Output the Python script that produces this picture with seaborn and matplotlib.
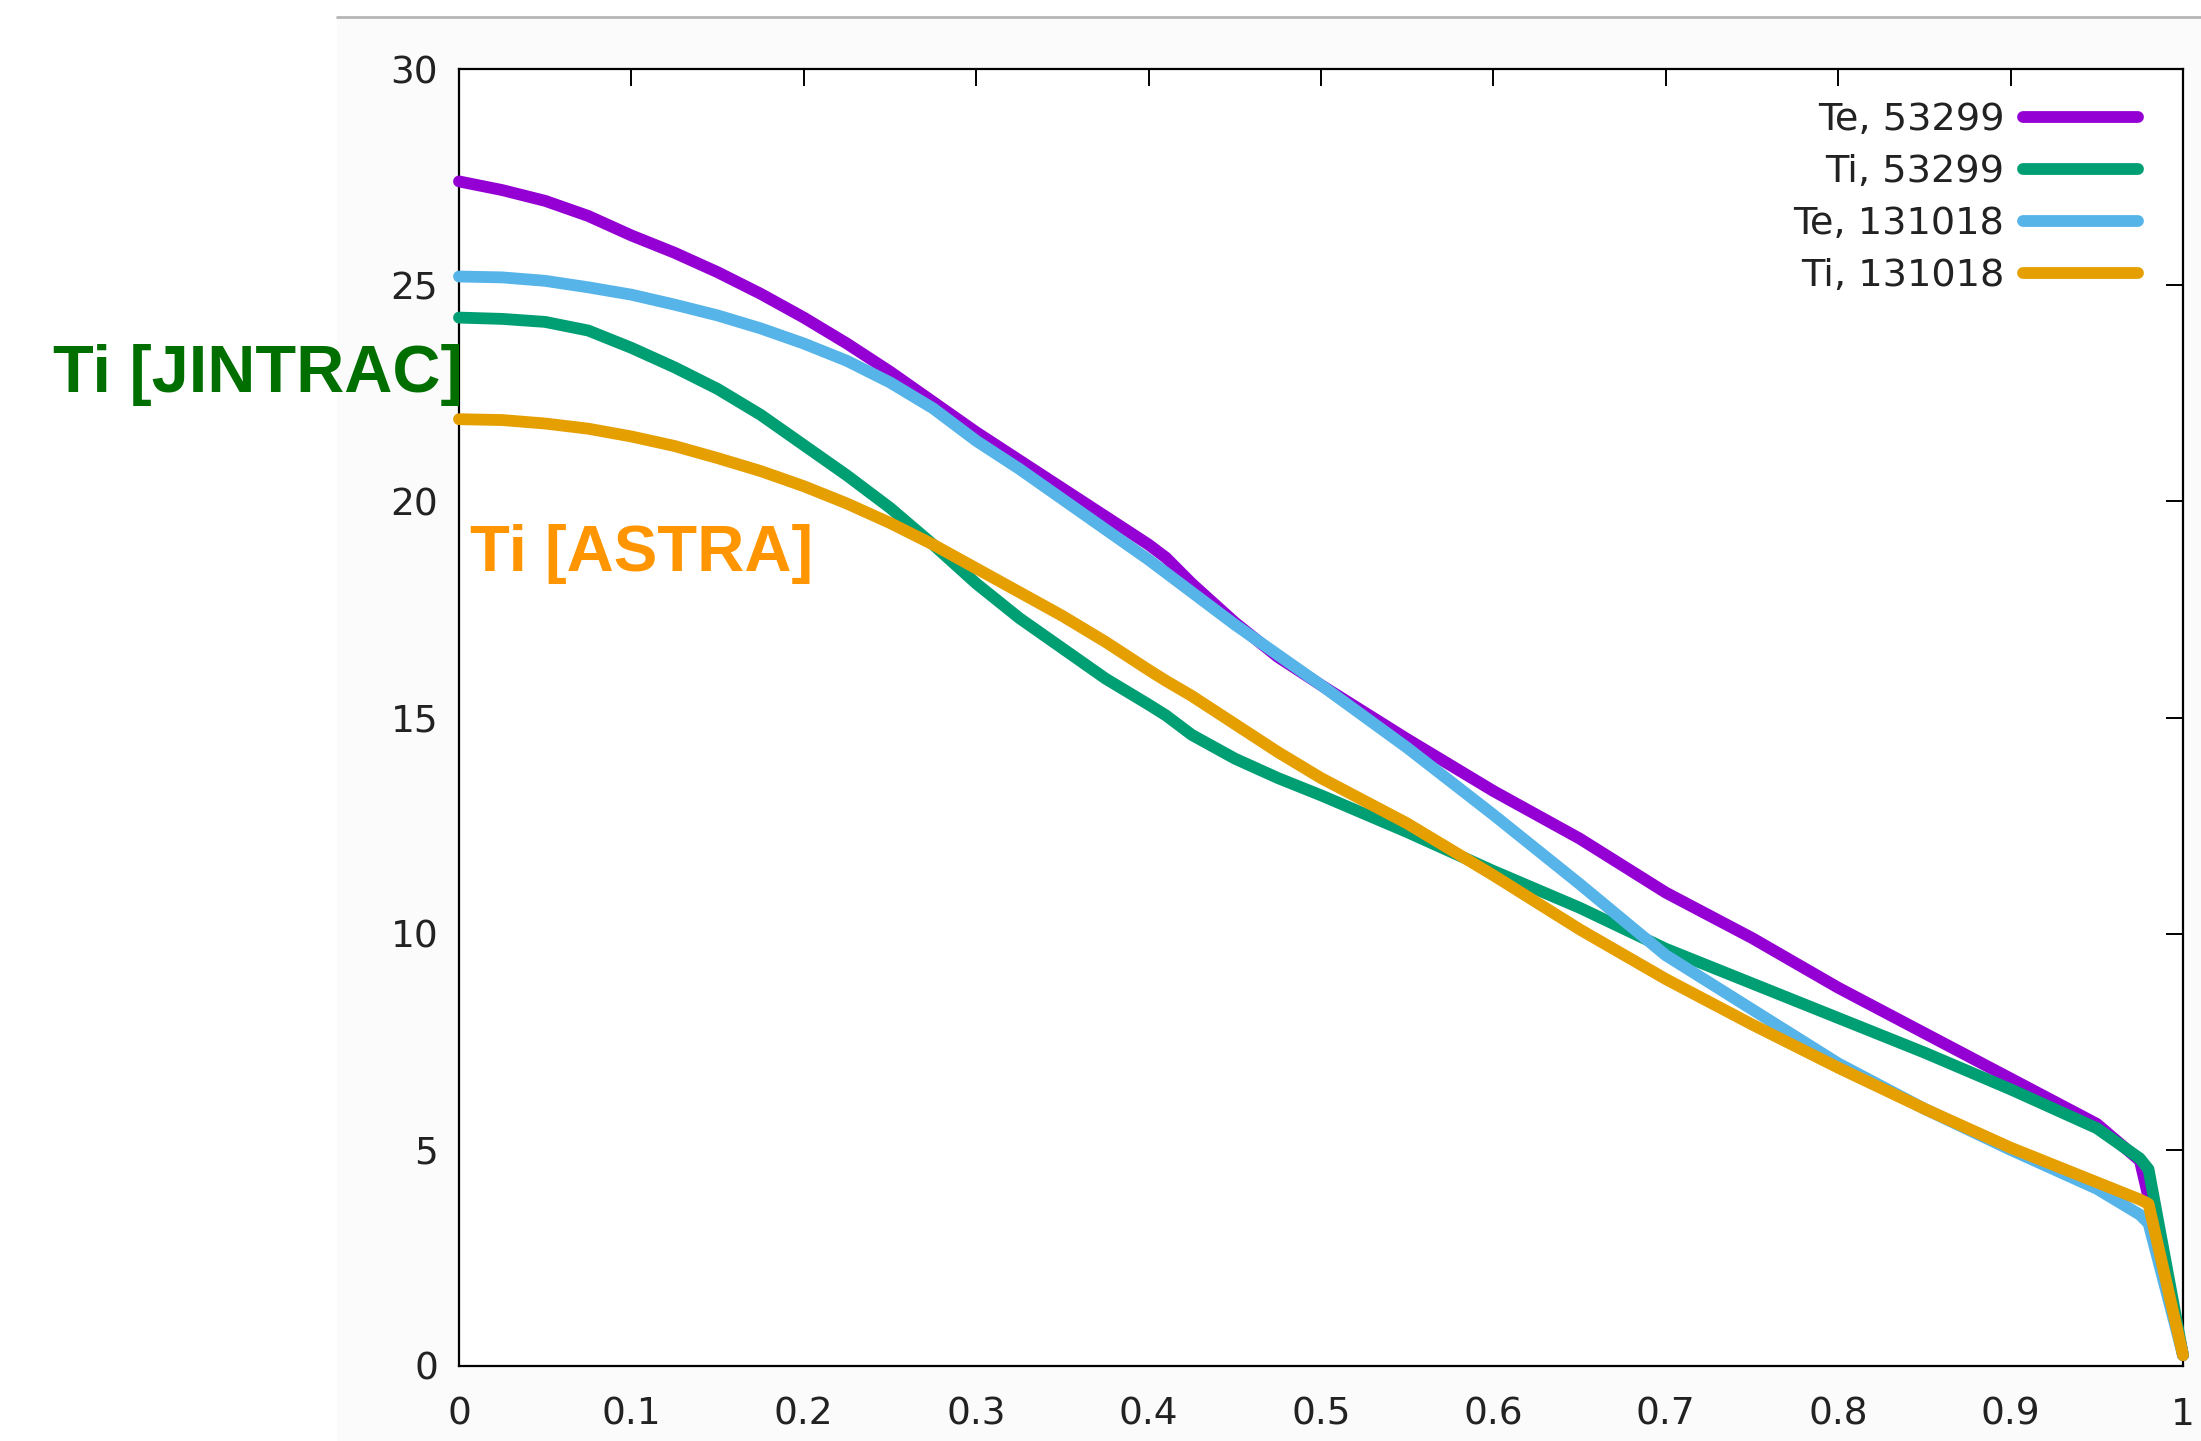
import numpy as np
import pandas as pd
import matplotlib
matplotlib.use("Agg")
import matplotlib.pyplot as plt
from matplotlib.lines import Line2D
from matplotlib.patches import Rectangle
import seaborn as sns

# ---- data ----
rho = [0.0, 0.025, 0.05, 0.075, 0.1, 0.125, 0.15, 0.175, 0.2, 0.225, 0.25, 0.275,
       0.3, 0.325, 0.35, 0.375, 0.4, 0.41, 0.425, 0.45, 0.475, 0.5, 0.55, 0.6,
       0.65, 0.7, 0.75, 0.8, 0.85, 0.9, 0.95, 0.975, 0.98, 1.0]
te_53299 = [27.4, 27.2, 26.95, 26.6, 26.15, 25.75, 25.3, 24.8, 24.25, 23.65, 23.0, 22.3,
            21.6, 20.95, 20.3, 19.65, 19.0, 18.7, 18.1, 17.2, 16.4, 15.75, 14.5, 13.3,
            12.2, 10.95, 9.9, 8.75, 7.7, 6.65, 5.6, 4.75, 3.9, 0.25]
ti_53299 = [24.25, 24.22, 24.15, 23.95, 23.55, 23.1, 22.6, 22.0, 21.3, 20.6, 19.85, 19.0,
            18.1, 17.3, 16.6, 15.9, 15.3, 15.05, 14.6, 14.05, 13.6, 13.2, 12.35, 11.45,
            10.6, 9.65, 8.85, 8.05, 7.25, 6.4, 5.5, 4.8, 4.55, 0.25]
te_131018 = [25.2, 25.18, 25.1, 24.95, 24.78, 24.55, 24.3, 24.0, 23.65, 23.25, 22.75, 22.15,
             21.4, 20.75, 20.05, 19.35, 18.65, 18.35, 17.9, 17.15, 16.45, 15.75, 14.3, 12.75,
             11.15, 9.5, 8.25, 7.0, 5.95, 5.0, 4.1, 3.5, 3.3, 0.25]
ti_131018 = [21.9, 21.88, 21.8, 21.68, 21.5, 21.28, 21.0, 20.7, 20.35, 19.95, 19.5, 19.0,
             18.45, 17.9, 17.35, 16.75, 16.1, 15.85, 15.5, 14.85, 14.2, 13.6, 12.55, 11.35,
             10.1, 8.95, 7.9, 6.9, 5.95, 5.05, 4.25, 3.85, 3.75, 0.25]

series_names = ["Te, 53299", "Ti, 53299", "Te, 131018", "Ti, 131018"]
series_values = [te_53299, ti_53299, te_131018, ti_131018]
series_colors = ["#9400D3", "#009E73", "#56B4E9", "#E69F00"]

x_ticks = [0, 0.1, 0.2, 0.3, 0.4, 0.5, 0.6, 0.7, 0.8, 0.9, 1.0]
x_tick_labels = ["0", "0.1", "0.2", "0.3", "0.4", "0.5", "0.6", "0.7", "0.8", "0.9", "1"]
y_ticks = [0, 5, 10, 15, 20, 25, 30]
y_tick_labels = ["0", "5", "10", "15", "20", "25", "30"]

annot_texts = ["Ti [JINTRAC]", "Ti [ASTRA]"]
annot_colors = ["#006F00", "#FF9500"]

df = pd.concat(
    [pd.DataFrame({"rho": rho, "T": v, "series": n}) for n, v in zip(series_names, series_values)],
    ignore_index=True,
)

sns.set_theme(style="white")
plt.rcParams["font.family"] = ["DejaVu Sans"]

W, H = 2201, 1441
fig = plt.figure(figsize=(W / 100, H / 100), dpi=100)
fig.patch.set_facecolor("white")

# screenshot-like light background and top grey rule
fig.add_artist(Rectangle((337 / W, 0), 1 - 337 / W, 1 - 19 / H, transform=fig.transFigure,
                         facecolor="#fbfbfb", edgecolor="none", zorder=0))
fig.add_artist(Line2D([337 / W, 1], [1 - 17 / H, 1 - 17 / H], transform=fig.transFigure,
                      color="#b5b5b5", lw=2.0, zorder=1))

ax = fig.add_axes([459 / W, 1 - 1366 / H, (2183 - 459) / W, (1366 - 69) / H])
ax.set_facecolor("white")

LW = 8.5
sns.lineplot(data=df, x="rho", y="T", hue="series", hue_order=series_names,
             palette=dict(zip(series_names, series_colors)), linewidth=LW,
             ax=ax, legend=False, sort=False)
for ln in ax.lines:
    ln.set_solid_capstyle("round")
    ln.set_solid_joinstyle("round")
    ln.set_clip_on(False)

ax.set_xlim(0, 1)
ax.set_ylim(0, 30)
ax.set_xticks(x_ticks)
ax.set_xticklabels(x_tick_labels)
ax.set_yticks(y_ticks)
ax.set_yticklabels(y_tick_labels)
ax.set_xlabel("")
ax.set_ylabel("")
for s in ax.spines.values():
    s.set_visible(True)
    s.set_color("black")
    s.set_linewidth(1.6)
    s.set_zorder(0.5)
ax.tick_params(axis="both", which="both", direction="in", length=12, width=1.4,
               top=True, right=True, labelsize=27, colors="black")
ax.tick_params(axis="x", pad=22)
ax.tick_params(axis="y", pad=15)
for lab in ax.get_xticklabels() + ax.get_yticklabels():
    lab.set_color("#222222")

handles = [Line2D([0], [0], color=c, lw=LW, solid_capstyle="round") for c in series_colors]
leg = ax.legend(handles, series_names, loc="upper right",
                bbox_to_anchor=(1 - 45 / 1724, 1 - 33 / 1297),
                frameon=False, markerfirst=False, fontsize=27.5, handlelength=3.0,
                handletextpad=0.5, labelspacing=0.42, borderaxespad=0, borderpad=0)
for t in leg.get_texts():
    t.set_color("#222222")

fig.text(53 / W, 1 - 375 / H, annot_texts[0], color=annot_colors[0], fontsize=48,
         fontweight="bold", family="Liberation Sans", ha="left", va="center")
fig.text(470 / W, 1 - 554 / H, annot_texts[1], color=annot_colors[1], fontsize=47,
         fontweight="bold", family="Liberation Sans", ha="left", va="center")

fig.savefig("out.png", dpi=100)
